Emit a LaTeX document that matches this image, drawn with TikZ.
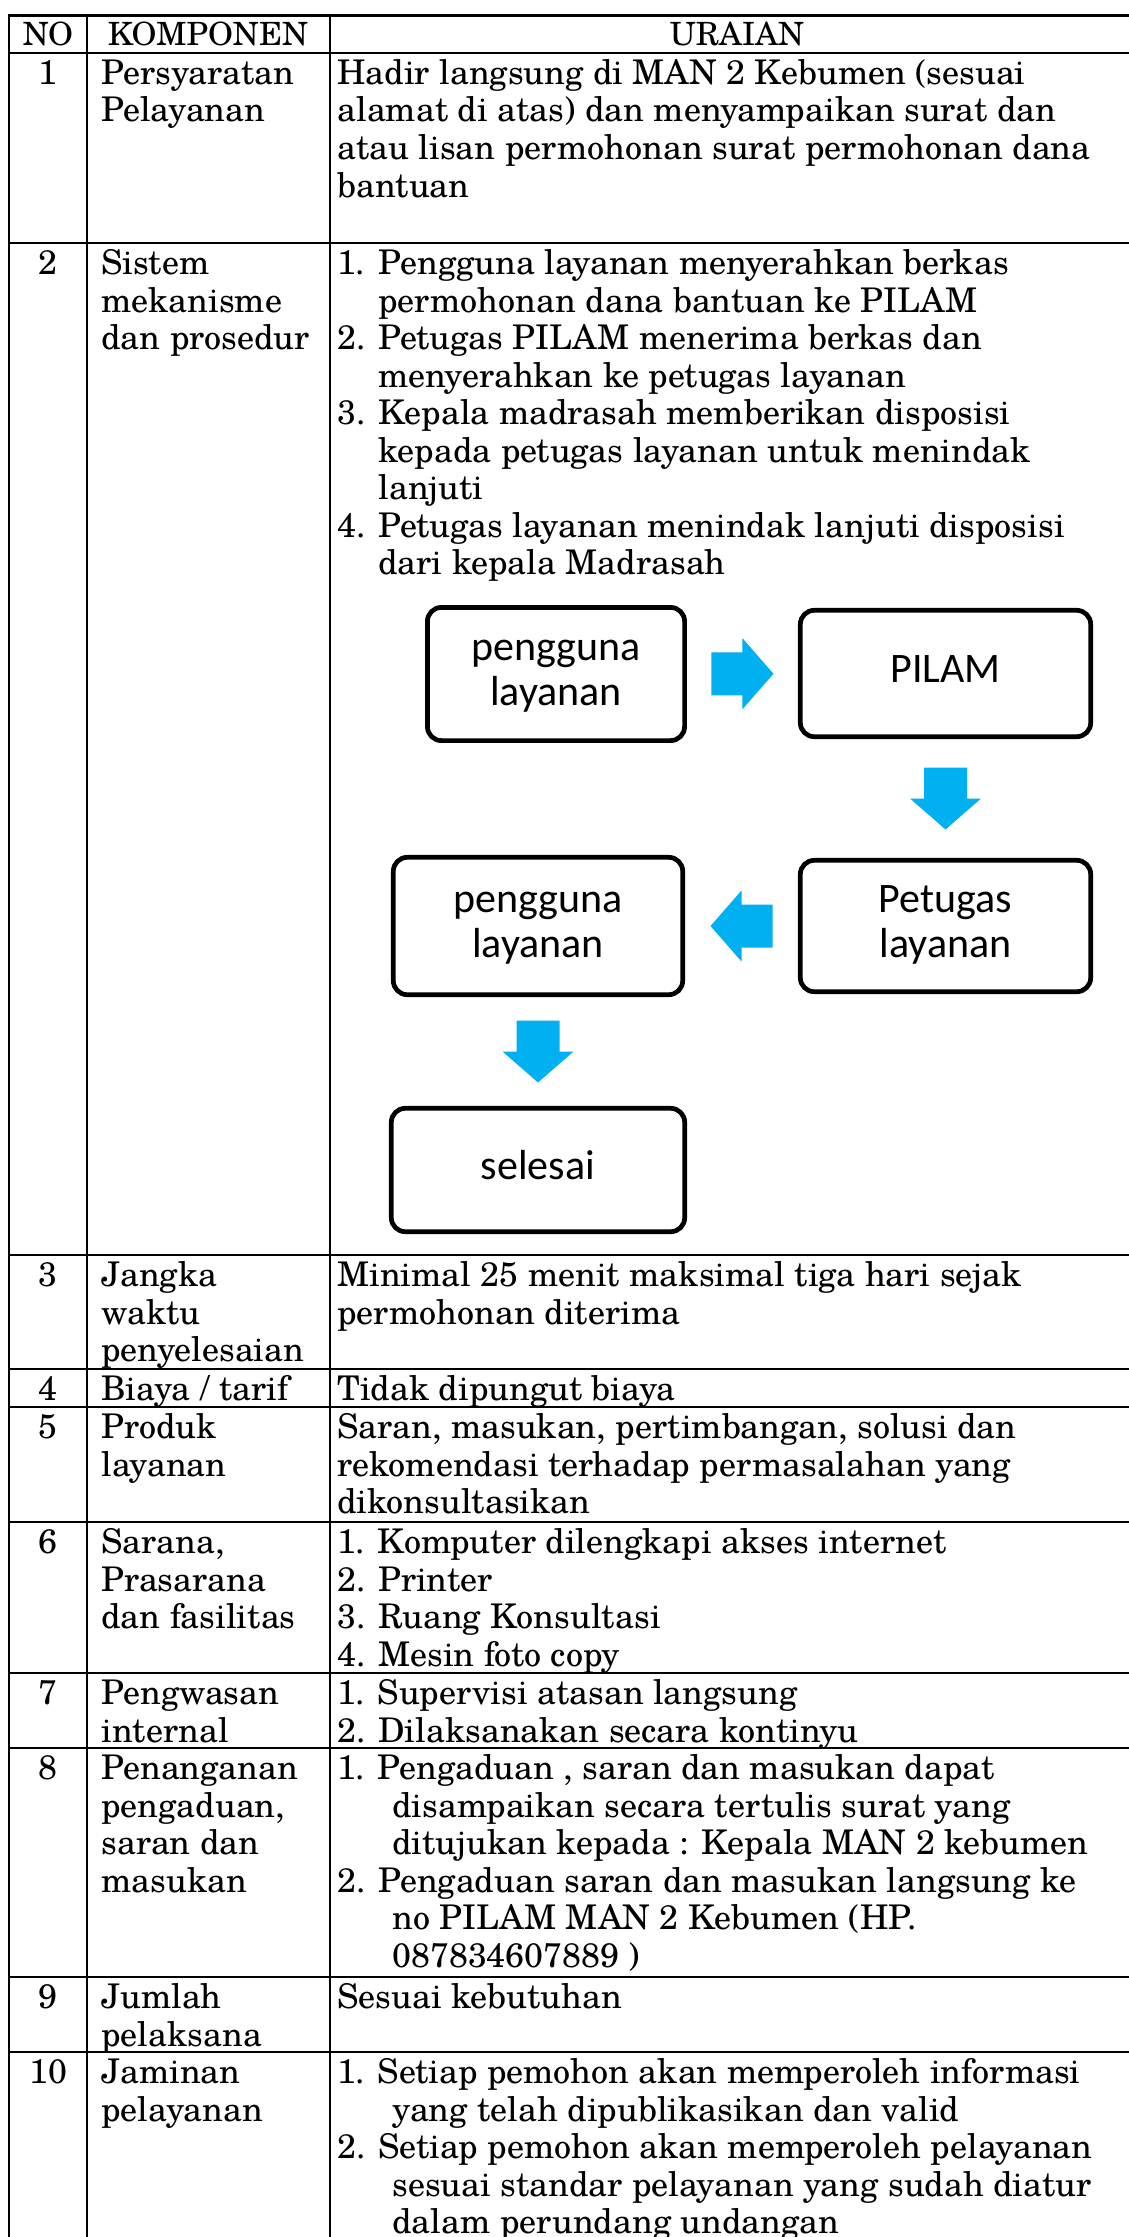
\documentclass[tikz,border=0pt]{standalone}
\usepackage{fontspec}
\setmainfont{TeX Gyre Schola}
\newfontfamily\boxfont{Carlito}
\usetikzlibrary{calc}
\definecolor{flowcyan}{RGB}{0,176,240}
% multi-line cell contents, baseline on the first line
\newcommand\celltext[1]{\begin{tabular}[t]{@{}l@{}}#1\end{tabular}}
% centred lines inside the flow boxes
\newcommand\boxtext[1]{\begin{tabular}{@{}c@{}}#1\end{tabular}}
% numbered lists with a hanging indent
\newcommand\numitem[1]{\makebox[20.5pt][l]{#1}}
\newcommand\hangit{\hspace*{20.5pt}}
\newcommand\hangwide{\hspace*{27.5pt}}

\begin{document}
\begin{tikzpicture}[x=0.5pt,y=-0.5pt,
  rule/.style={line width=1.2pt,line cap=rect},
  cell/.style={anchor=base west,inner sep=0pt,font=\fontsize{17}{18.75}\selectfont},
  numcell/.style={anchor=base,inner sep=0pt,font=\fontsize{17}{18.75}\selectfont},
  headcell/.style={anchor=base,inner sep=0pt,font=\fontsize{16}{18}\selectfont},
  flowbox/.style={draw,line width=2.35pt,rounded corners=7pt,
    inner sep=0pt,font=\boxfont\fontsize{21}{22.5}\selectfont},
  blockarrow/.pic={\fill[flowcyan] (-31,-21.5) -- (0,-21.5) -- (0,-35.5) -- (31,0)
    -- (0,35.5) -- (0,21.5) -- (-31,21.5) -- cycle;}
]
\useasboundingbox (0,0) rectangle (1129,2237);
\fill[white] (0,0) rectangle (1129,2237);

% table rules
\foreach \y in {15.5,53,243,1255,1369,1407,1522,1673,1748,1977,2052}
  \draw[rule] (9,\y) -- (1140,\y);
\foreach \x in {9,87,330}
  \draw[rule] (\x,15.5) -- (\x,2250);

% header
\node[headcell] (hno) at (48,46) {NO};
\node[headcell] (hkomp) at (208,46) {KOMPONEN};
\node[headcell] (hura) at (737,46) {URAIAN};

% row 1
\node[numcell] (n1) at (48,84.5) {1};
\node[cell] (k1) at (101,84.5) {\celltext{Persyaratan\\Pelayanan}};
\node[cell] (u1) at (337,84.5) {\celltext{Hadir langsung di MAN 2 Kebumen (sesuai\\
  alamat di atas) dan menyampaikan surat dan\\
  atau lisan permohonan surat permohonan dana\\bantuan}};

% row 2
\node[numcell] (n2) at (48,274.5) {2};
\node[cell] (k2) at (101,274.5) {\celltext{Sistem\\mekanisme\\dan prosedur}};
\node[cell] (u2) at (337,274.5) {\celltext{%
  \numitem{1.}Pengguna layanan menyerahkan berkas\\
  \hangit permohonan dana bantuan ke PILAM\\
  \numitem{2.}Petugas PILAM menerima berkas dan\\
  \hangit menyerahkan ke petugas layanan\\
  \numitem{3.}Kepala madrasah memberikan disposisi\\
  \hangit kepada petugas layanan untuk menindak\\
  \hangit lanjuti\\
  \numitem{4.}Petugas layanan menindak lanjuti disposisi\\
  \hangit dari kepala Madrasah}};

% flow of the procedure
\node[flowbox,minimum width=128.6pt,minimum height=66.6pt] (A) at (556,674) {\boxtext{pengguna\\layanan}};
\node[flowbox,minimum width=145.2pt,minimum height=63.2pt] (B) at (945.5,673.5) {\boxtext{PILAM}};
\node[flowbox,minimum width=145.2pt,minimum height=65.7pt] (C) at (945.5,926) {\boxtext{Petugas\\layanan}};
\node[flowbox,minimum width=144.7pt,minimum height=68.7pt] (D) at (538,926) {\boxtext{pengguna\\layanan}};
\node[flowbox,minimum width=146.7pt,minimum height=61.7pt] (E) at (538,1170) {\boxtext{selesai}};

\coordinate (ab) at ($(A.east)!0.5!(B.west)$);
\coordinate (bc) at ($(B.south)!0.5!(C.north)$);
\coordinate (cd) at ($(C.west)!0.5!(D.east)$);
\coordinate (de) at ($(D.south)!0.5!(E.north)$);
\pic at (ab) {blockarrow};
\pic[rotate=-90] at (bc) {blockarrow};
\pic[rotate=180] at (cd) {blockarrow};
\pic[rotate=-90] at (de) {blockarrow};

% row 3
\node[numcell] (n3) at (48,1286.5) {3};
\node[cell] (k3) at (101,1286.5) {\celltext{Jangka\\waktu\\penyelesaian}};
\node[cell] (u3) at (337,1286.5) {\celltext{Minimal 25 menit maksimal tiga hari sejak\\permohonan diterima}};

% row 4
\node[numcell] (n4) at (48,1400.5) {4};
\node[cell] (k4) at (101,1400.5) {Biaya / tarif};
\node[cell] (u4) at (337,1400.5) {Tidak dipungut biaya};

% row 5
\node[numcell] (n5) at (48,1438.5) {5};
\node[cell] (k5) at (101,1438.5) {\celltext{Produk\\layanan}};
\node[cell] (u5) at (337,1438.5) {\celltext{Saran, masukan, pertimbangan, solusi dan\\
  rekomendasi terhadap permasalahan yang\\dikonsultasikan}};

% row 6
\node[numcell] (n6) at (48,1553.5) {6};
\node[cell] (k6) at (101,1553.5) {\celltext{Sarana,\\Prasarana\\dan fasilitas}};
\node[cell] (u6) at (337,1553.5) {\celltext{1. Komputer dilengkapi akses internet\\
  2. Printer\\3. Ruang Konsultasi\\4. Mesin foto copy}};

% row 7
\node[numcell] (n7) at (48,1704.5) {7};
\node[cell] (k7) at (101,1704.5) {\celltext{Pengwasan\\internal}};
\node[cell] (u7) at (337,1704.5) {\celltext{1. Supervisi atasan langsung\\
  2. Dilaksanakan secara kontinyu}};

% row 8
\node[numcell] (n8) at (48,1779.5) {8};
\node[cell] (k8) at (101,1779.5) {\celltext{Penanganan\\pengaduan,\\saran dan\\masukan}};
\node[cell] (u8) at (337,1779.5) {\celltext{1. Pengaduan , saran dan masukan dapat\\
  \hangwide disampaikan secara tertulis surat yang\\
  \hangwide ditujukan kepada : Kepala MAN 2 kebumen\\
  2. Pengaduan saran dan masukan langsung ke\\
  \hangwide no PILAM MAN 2 Kebumen (HP.\\
  \hangwide 087834607889 )}};

% row 9
\node[numcell] (n9) at (48,2008.5) {9};
\node[cell] (k9) at (101,2008.5) {\celltext{Jumlah\\pelaksana}};
\node[cell] (u9) at (337,2008.5) {Sesuai kebutuhan};

% row 10
\node[numcell] (n10) at (48,2083.5) {10};
\node[cell] (k10) at (101,2083.5) {\celltext{Jaminan\\pelayanan}};
\node[cell] (u10) at (337,2083.5) {\celltext{1. Setiap pemohon akan memperoleh informasi\\
  \hangwide yang telah dipublikasikan dan valid\\
  2. Setiap pemohon akan memperoleh pelayanan\\
  \hangwide sesuai standar pelayanan yang sudah diatur\\
  \hangwide dalam perundang undangan}};
\end{tikzpicture}
\end{document}
